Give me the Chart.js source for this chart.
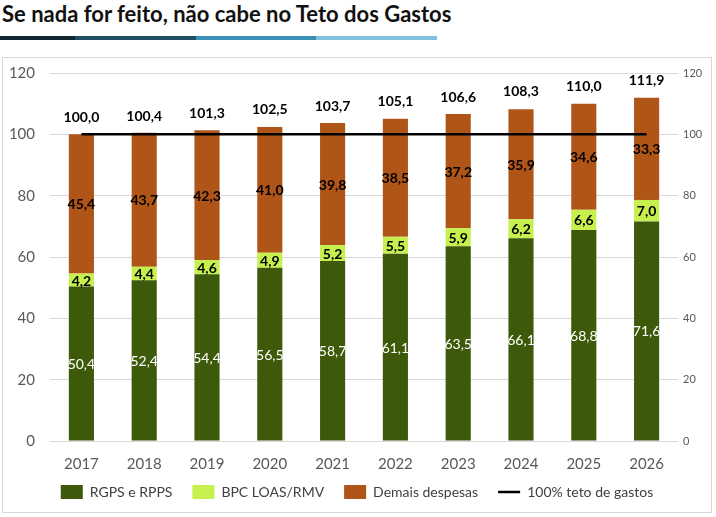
<!DOCTYPE html>
<html>
<head>
<meta charset="utf-8">
<script src="https://cdn.jsdelivr.net/npm/chart.js@4.4.1/dist/chart.umd.min.js"></script>
<style>
  html, body { margin: 0; padding: 0; background: #fff; }
  body { width: 716px; height: 517px; position: relative; overflow: hidden; font-family: Lato, "Open Sans", sans-serif; }
  #title { position: absolute; left: 2px; top: 0px; font-family: Lato, "Open Sans", sans-serif; font-weight: bold; font-size: 22px; color: #111; white-space: nowrap; }
  .seg { position: absolute; top: 36px; height: 4px; }
  #box { position: absolute; left: 2px; top: 57px; width: 708px; height: 454px; border: 1px solid #d9d9d9; }
  #box canvas { display: block; }
</style>
</head>
<body>
<div id="title">Se nada for feito, não cabe no Teto dos Gastos</div>
<div class="seg" style="left:0;width:75px;background:#0f2530"></div>
<div class="seg" style="left:75px;width:121px;background:#1f4f63"></div>
<div class="seg" style="left:196px;width:120px;background:#3a90b5"></div>
<div class="seg" style="left:316px;width:121px;background:#80c3de"></div>
<div id="box"><canvas id="c" width="708" height="454"></canvas></div>
<script>
const years = ["2017","2018","2019","2020","2021","2022","2023","2024","2025","2026"];
const rgps = [50.4, 52.4, 54.4, 56.5, 58.7, 61.1, 63.5, 66.1, 68.8, 71.6];
const bpc = [4.2, 4.4, 4.6, 4.9, 5.2, 5.5, 5.9, 6.2, 6.6, 7.0];
const demais = [45.4, 43.7, 42.3, 41.0, 39.8, 38.5, 37.2, 35.9, 34.6, 33.3];
const totals = [100.0, 100.4, 101.3, 102.5, 103.7, 105.1, 106.6, 108.3, 110.0, 111.9];
const teto = [100, 100, 100, 100, 100, 100, 100, 100, 100, 100];
const yTicks = [0, 20, 40, 60, 80, 100, 120];

const fmt = v => v.toFixed(1).replace('.', ',');
const FONT = 'Lato, "Open Sans", sans-serif';

const labelPlugin = {
  id: 'labels',
  afterDatasetsDraw(chart) {
    const ctx = chart.ctx;
    ctx.save();
    ctx.textAlign = 'center';
    ctx.textBaseline = 'middle';
    const styles = [
      { color: '#ffffff', font: 'normal 14px ' + FONT },
      { color: '#000000', font: 'bold 14px ' + FONT },
      { color: '#000000', font: 'bold 14px ' + FONT }
    ];
    for (let d = 0; d < 3; d++) {
      const meta = chart.getDatasetMeta(d);
      const data = chart.data.datasets[d].data;
      meta.data.forEach((el, i) => {
        const p = el.getProps(['x', 'y', 'base'], true);
        ctx.fillStyle = styles[d].color;
        ctx.font = styles[d].font;
        ctx.fillText(fmt(data[i]), p.x, (p.y + p.base) / 2 + 1);
      });
    }
    const ys = chart.scales.y;
    const xs = chart.scales.x;
    ctx.fillStyle = '#000';
    ctx.font = 'bold 14px ' + FONT;
    totals.forEach((t, i) => {
      ctx.fillText(fmt(t), xs.getPixelForValue(i), ys.getPixelForValue(t) - 17);
    });
    ctx.restore();
  }
};

const LEGEND_H = 33, LEGEND_SHIFT = 14;
const legendPatch = {
  id: 'legendPatch',
  beforeLayout(chart) {
    const lg = chart.legend;
    if (lg && !lg._patched) {
      lg._patched = true;
      const of = lg.fit.bind(lg);
      lg.fit = function () { of(); this.height = LEGEND_H; };
      const od = lg.draw.bind(lg);
      lg.draw = function () {
        const t = this.top, h = this.height;
        this.top = t - LEGEND_SHIFT; this.height = h + LEGEND_SHIFT;
        od();
        this.top = t; this.height = h;
      };
    }
  }
};

new Chart(document.getElementById('c'), {
  data: {
    labels: years,
    datasets: [
      { type: 'bar', label: 'RGPS e RPPS', data: rgps, backgroundColor: '#3d5a0b', stack: 's', order: 1, yAxisID: 'y' },
      { type: 'bar', label: 'BPC LOAS/RMV', data: bpc, backgroundColor: '#c6f04e', stack: 's', order: 1, yAxisID: 'y' },
      { type: 'bar', label: 'Demais despesas', data: demais, backgroundColor: '#b05518', stack: 's', order: 1, yAxisID: 'y' },
      { type: 'line', label: '100% teto de gastos', data: teto, borderColor: '#000', backgroundColor: '#000', borderWidth: 2.5, pointRadius: 0, stack: 'line', order: 0, yAxisID: 'y' }
    ]
  },
  options: {
    responsive: false,
    animation: false,
    devicePixelRatio: 1,
    layout: { padding: { top: 15, bottom: 0, left: 0, right: 0 } },
    datasets: { bar: { categoryPercentage: 1, barPercentage: 0.4 } },
    scales: {
      x: {
        stacked: true,
        grid: { display: false },
        border: { display: false },
        ticks: { color: '#595959', font: { family: FONT, size: 15 }, padding: 6 }
      },
      y: {
        stacked: true,
        min: 0, max: 120,
        afterBuildTicks: s => { s.ticks = yTicks.map(v => ({ value: v })); },
        afterFit: s => { s.width = 47; s.paddingTop = 0; s.paddingBottom = 0; },
        grid: { color: '#d9d9d9', lineWidth: 1, drawTicks: false },
        border: { display: false },
        ticks: { color: '#595959', font: { family: FONT, size: 15 }, padding: 15 }
      },
      y2: {
        position: 'right',
        min: 0, max: 120,
        afterBuildTicks: s => { s.ticks = yTicks.map(v => ({ value: v })); },
        afterFit: s => { s.width = 33; s.paddingTop = 0; s.paddingBottom = 0; },
        grid: { display: false, drawTicks: false },
        border: { display: false },
        ticks: { color: '#595959', font: { family: FONT, size: 11 }, padding: 5 }
      }
    },
    plugins: {
      tooltip: { enabled: false },
      legend: {
        position: 'bottom',
        labels: {
          usePointStyle: true,
          pointStyleWidth: 22,
          boxHeight: 14,
          padding: 20,
          color: '#404040',
          font: { family: FONT, size: 14 },
          sort: (a, b) => a.datasetIndex - b.datasetIndex,
          generateLabels: chart => {
            const items = Chart.defaults.plugins.legend.labels.generateLabels(chart);
            items.forEach(it => {
              if (it.datasetIndex === 3) { it.pointStyle = 'line'; it.lineWidth = 2.5; it.strokeStyle = '#000'; }
              else { it.pointStyle = 'rect'; it.lineWidth = 0; }
            });
            return items;
          }
        }
      }
    }
  },
  plugins: [labelPlugin, legendPatch]
});
</script>
</body>
</html>
